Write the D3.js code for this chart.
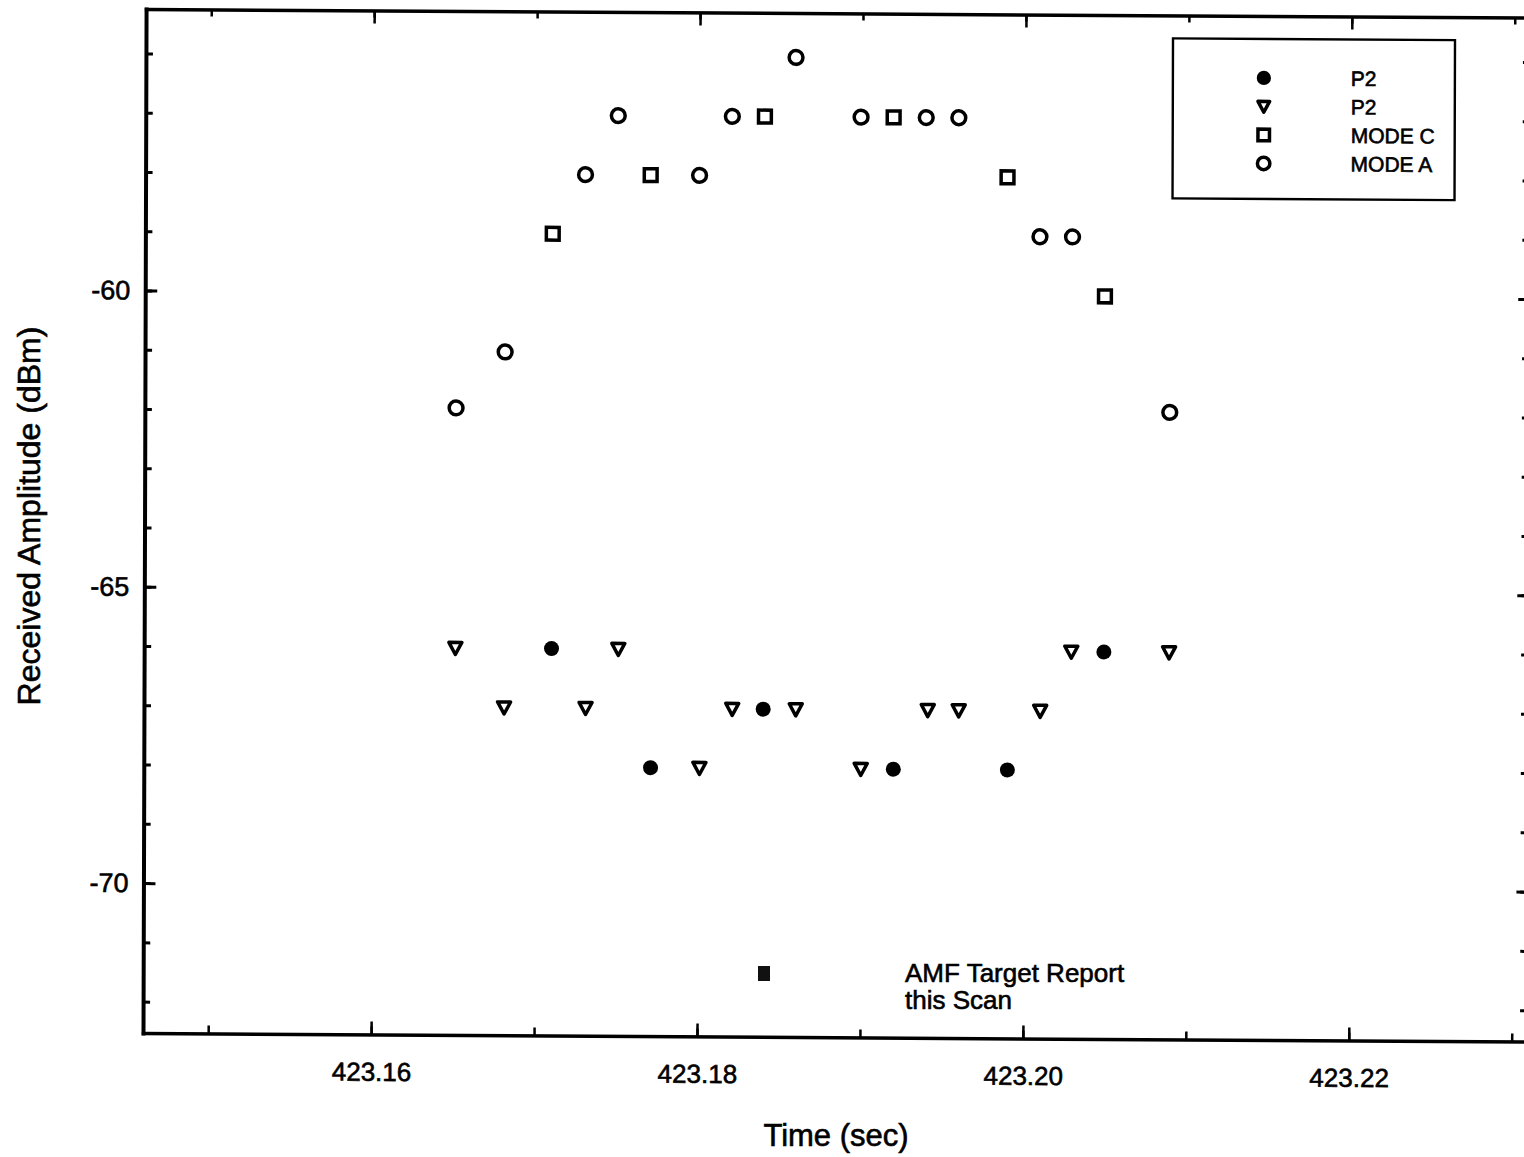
<!DOCTYPE html>
<html><head><meta charset="utf-8">
<script src="https://cdn.jsdelivr.net/npm/d3@7"></script>
<style>html,body{margin:0;padding:0;background:#fff;} svg{display:block;}</style>
</head><body>
<svg id="chart" width="1524" height="1157"></svg>
<script>
// ---- data ----
const modeATime = [423.1651, 423.1681, 423.1730, 423.1750, 423.1800, 423.1820, 423.1859, 423.1899, 423.1939, 423.1959, 423.2009, 423.2029, 423.2089];
const modeAAmp  = [-61.95, -61, -58, -57, -58, -57, -56, -57, -57, -57, -59, -59, -61.95];

const modeCTime = [423.1710, 423.1770, 423.1840, 423.1919, 423.1989, 423.2049];
const modeCAmp  = [-59, -58, -57, -57, -58, -60];

const p2OpenTime = [423.1651, 423.1681, 423.1731, 423.1751, 423.1801, 423.1821, 423.1860, 423.1900, 423.1941, 423.1960, 423.2010, 423.2029, 423.2089];
const p2OpenAmp  = [-66, -67, -67, -66, -68, -67, -67, -68, -67, -67, -67, -66, -66];

const p2FilledTime = [423.1710, 423.1771, 423.1840, 423.1920, 423.1990, 423.2049];
const p2FilledAmp  = [-66, -68, -67, -68, -68, -66];

const amfTime = [423.1841];
const amfAmp  = [-71.46];
const amfLabel = ["AMF Target Report", "this Scan"];

const xDomain = [423.1460, 423.2310];
const yDomain = [-72.53, -55.25];
const xMajorTicks = [423.16, 423.18, 423.20, 423.22];
const xMinorTicks = [423.15, 423.16, 423.17, 423.18, 423.19, 423.20, 423.21, 423.22, 423.23];
const yMajorTicks = [-70, -65, -60];
const yMinorTicks = [-72, -71, -70, -69, -68, -67, -66, -65, -64, -63, -62, -61, -60, -59, -58, -57, -56];

const legendLabels = ["P2", "P2", "MODE C", "MODE A"];
const legendKinds  = ["filled", "triangle", "square", "circle"];
const xTitle = "Time (sec)";
const yTitle = "Received Amplitude (dBm)";

// ---- drawing ----
const FONT = "'Liberation Sans', Arial, Helvetica, sans-serif";
const TXT_STROKE = 0.6;
const svg = d3.select("#chart");
const L = 143, R = 1528, T = 9, B = 1033;
const x = d3.scaleLinear().domain(xDomain).range([L, R]);
const y = d3.scaleLinear().domain(yDomain).range([B, T]);

// slight skew of the scanned page
const g = svg.append("g").attr("transform", "matrix(1,0.0062,-0.003,1,3.1,-0.887)");

function textStyle(sel, fs) {
  sel.attr("font-family", FONT).attr("font-size", fs).attr("fill", "#000")
    .attr("stroke", "#000").attr("stroke-width", TXT_STROKE);
}
function styleAxis(sel, domainW, tickW, fs) {
  sel.select(".domain").attr("stroke", "#000").attr("stroke-width", domainW).attr("stroke-linecap", "square");
  sel.selectAll(".tick line").attr("stroke", "#000").attr("stroke-width", tickW);
  sel.selectAll("text").call(textStyle, fs);
}
const fmtX = d3.format(".2f");
const fmtY = d => String(d);

// bottom
g.append("g").attr("transform", `translate(0,${B})`)
  .call(d3.axisBottom(x).tickValues(xMinorTicks).tickSize(-8).tickSizeOuter(0).tickFormat(""))
  .call(s => { s.select(".domain").remove(); styleAxis(s, 3.5, 2.5, 26); });
g.append("g").attr("transform", `translate(0,${B})`)
  .call(d3.axisBottom(x).tickValues(xMajorTicks).tickSize(-13).tickSizeOuter(0).tickPadding(28).tickFormat(fmtX))
  .call(s => styleAxis(s, 3.5, 2.5, 26));
// top
g.append("g").attr("transform", `translate(0,${T})`)
  .call(d3.axisTop(x).tickValues(xMinorTicks).tickSize(-7).tickSizeOuter(0).tickFormat(""))
  .call(s => { s.select(".domain").remove(); styleAxis(s, 3.5, 2.5, 26); });
g.append("g").attr("transform", `translate(0,${T})`)
  .call(d3.axisTop(x).tickValues(xMajorTicks).tickSize(-13).tickSizeOuter(0).tickFormat(""))
  .call(s => styleAxis(s, 3.5, 2.5, 26));
// left
g.append("g").attr("transform", `translate(${L},0)`)
  .call(d3.axisLeft(y).tickValues(yMinorTicks).tickSize(-7).tickSizeOuter(0).tickFormat(""))
  .call(s => { s.select(".domain").remove(); styleAxis(s, 4, 3, 27); });
g.append("g").attr("transform", `translate(${L},0)`)
  .call(d3.axisLeft(y).tickValues(yMajorTicks).tickSize(-12).tickSizeOuter(0).tickPadding(15).tickFormat(fmtY))
  .call(s => styleAxis(s, 4, 3, 27));
// right
g.append("g").attr("transform", `translate(${R},0)`)
  .call(d3.axisRight(y).tickValues(yMinorTicks).tickSize(-8).tickSizeOuter(0).tickFormat(""))
  .call(s => { s.select(".domain").remove(); styleAxis(s, 3.5, 3, 26); });
g.append("g").attr("transform", `translate(${R},0)`)
  .call(d3.axisRight(y).tickValues(yMajorTicks).tickSize(-12).tickSizeOuter(0).tickFormat(""))
  .call(s => styleAxis(s, 3.5, 3, 26));

// marker drawing
function drawMarker(sel, kind, k) {
  k = k || 1;
  if (kind === "filled") {
    sel.append("circle").attr("r", 7.5 * k).attr("fill", "#000");
  } else if (kind === "circle") {
    sel.append("circle").attr("r", 6.9 * k).attr("fill", "#fff").attr("stroke", "#000").attr("stroke-width", 3.5);
  } else if (kind === "square") {
    const s = 12.8 * k;
    sel.append("rect").attr("x", -s / 2).attr("y", -s / 2).attr("width", s).attr("height", s)
      .attr("fill", "#fff").attr("stroke", "#000").attr("stroke-width", 3.5);
  } else if (kind === "triangle") {
    sel.append("path").attr("d", `M${-6.5*k},${-5.6*k}L${6.5*k},${-5.6*k}L0,${6.5*k}Z`)
      .attr("fill", "#fff").attr("stroke", "#000").attr("stroke-width", 3.5).attr("stroke-linejoin", "round");
  }
}
function series(times, amps, kind) {
  const pts = times.map((t, i) => ({ t, a: amps[i] }));
  g.append("g").selectAll("g").data(pts).join("g")
    .attr("transform", d => `translate(${x(d.t)},${y(d.a)})`)
    .each(function () { drawMarker(d3.select(this), kind, 1); });
}
series(modeATime, modeAAmp, "circle");
series(modeCTime, modeCAmp, "square");
series(p2OpenTime, p2OpenAmp, "triangle");
series(p2FilledTime, p2FilledAmp, "filled");

// AMF target report marker
g.append("g").selectAll("rect").data(amfTime.map((t, i) => ({ t, a: amfAmp[i] }))).join("rect")
  .attr("x", d => x(d.t) - 6).attr("y", d => y(d.a) - 7.5)
  .attr("width", 12).attr("height", 15).attr("fill", "#111");

// AMF label
svg.append("text").attr("x", 905).attr("y", 982).call(textStyle, 26)
  .selectAll("tspan").data(amfLabel).join("tspan")
  .attr("x", 905).attr("dy", (d, i) => i === 0 ? 0 : 27).text(d => d);

// legend
const lg = g.append("g");
lg.append("rect").attr("x", 1170).attr("y", 32).attr("width", 282).attr("height", 160)
  .attr("fill", "#fff").attr("stroke", "#000").attr("stroke-width", 2.4);
const rows = lg.selectAll("g.row").data(legendLabels).join("g").attr("class", "row")
  .attr("transform", (d, i) => `translate(0,${71 + i * 28.5})`);
rows.each(function (d, i) {
  const r = d3.select(this);
  const m = r.append("g").attr("transform", "translate(1261,0)");
  drawMarker(m, legendKinds[i], legendKinds[i] === "filled" ? 0.95 : 0.9);
  r.append("text").attr("x", 1348).attr("y", 7.5).call(textStyle, 21).text(d);
});

// axis titles
svg.append("text").attr("x", 836).attr("y", 1146).attr("text-anchor", "middle")
  .call(textStyle, 31).text(xTitle);
svg.append("text").attr("transform", "translate(40,516) rotate(-90)").attr("text-anchor", "middle")
  .call(textStyle, 32).text(yTitle);
</script>
</body></html>
